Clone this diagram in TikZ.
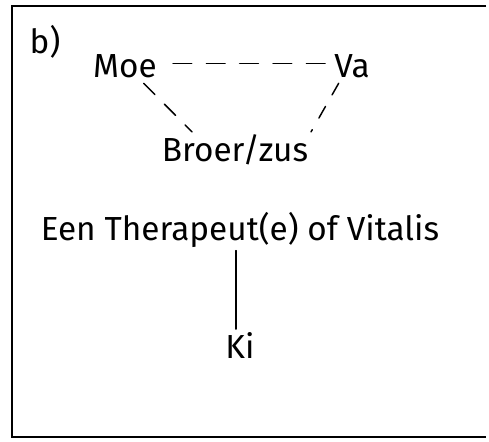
\documentclass[tikz,border=0pt]{standalone}
\usepackage{fontspec}
\setmainfont{Fira Sans}
\usetikzlibrary{positioning}

\begin{document}
\begin{tikzpicture}[x=0.75pt, y=-0.75pt,
    woord/.style={font=\fontsize{25}{30}\selectfont, inner sep=2pt},
    streep/.style={line width=1.1pt, dash pattern=on 14pt off 11pt, line cap=round},
    lijn/.style={line width=1.1pt, line cap=round}]
  % vaste afmetingen
  \useasboundingbox (0,0) rectangle (489,442);

  % kader (open aan de rechterkant)
  \draw[line width=1pt] (486,6) -- (12,6) -- (12,437) -- (486,437);

  % namen
  \node[woord] (b) at (45,42) {b)};
  \node[woord] (Moe) at (125,66) {Moe};
  \node[woord] (Va) at (352,66) {Va};
  \node[woord] (Broer) at (235,150) {Broer/zus};
  \node[woord] (Therapeut) at (240,230) {Een Therapeut(e) of Vitalis};
  \node[woord] (Ki) at (240,345) {Ki};

  % verbindingen
  \draw[streep] (Moe.east) ++(10pt,2pt) coordinate (m) -- (Va.west |- m);
  \draw[streep, dash pattern=on 12pt off 10pt] (Moe.south) ++(14pt,-2pt) -- (Broer.north -| 192,0);
  \draw[streep, dash pattern=on 10pt off 10pt] (Va.south) ++(-10pt,-2pt) -- (Broer.north east);
  \draw[lijn] (Therapeut.south) ++(-3pt,0) coordinate (t) -- (Ki.north -| t);
\end{tikzpicture}
\end{document}
